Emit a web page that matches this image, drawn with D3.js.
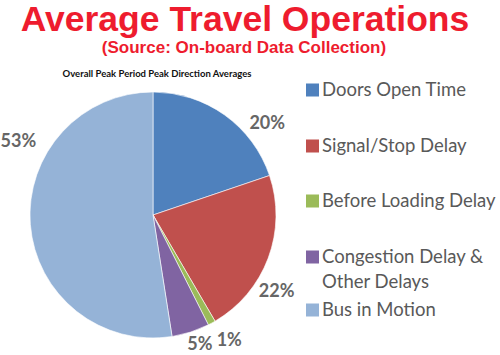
<!DOCTYPE html>
<html lang="en">
<head>
<meta charset="UTF-8">
<title>Average Travel Operations</title>
<script src="https://cdnjs.cloudflare.com/ajax/libs/d3/7.8.5/d3.min.js"></script>
<style>
  body { margin: 0; background: #fff; }
</style>
</head>
<body>
<svg width="500" height="355"></svg>
<script>
"use strict";

const categories = ["Doors Open Time", "Signal/Stop Delay", "Before Loading Delay", "Congestion Delay & Other Delays", "Bus in Motion"];
const shares = [20, 22, 1, 5, 53];
const colors = ["#4f81bd", "#c0504d", "#9bbb59", "#8064a2", "#95b3d7"];
const legendLines = [["Doors Open Time"], ["Signal/Stop Delay"], ["Before Loading Delay"], ["Congestion Delay &", "Other Delays"], ["Bus in Motion"]];

const svg = d3.select("svg");
const cx = 153, cy = 215, r = 123;

// label placement (degrees clockwise from 12 o'clock, distance from centre)
const labelAngle = [51, 121.5, 148.5, 160, 299];
const labelDist = [147, 145, 146, 137, 154];

svg.append("text")
    .attr("x", 245).attr("y", 31)
    .attr("text-anchor", "middle")
    .style("font-family", "Liberation Sans, Arial, sans-serif")
    .style("font-weight", "bold")
    .style("font-size", "35.5px")
    .attr("fill", "#ee1c2e")
    .text("Average Travel Operations");

svg.append("text")
    .attr("x", 244).attr("y", 53)
    .attr("text-anchor", "middle")
    .style("font-family", "Liberation Sans, Arial, sans-serif")
    .style("font-weight", "bold")
    .style("font-size", "17px")
    .attr("fill", "#ee1c2e")
    .text("(Source: On-board Data Collection)");

svg.append("text")
    .attr("x", 157).attr("y", 77)
    .attr("text-anchor", "middle")
    .style("font-family", "Lato, sans-serif")
    .style("font-weight", "bold")
    .style("font-size", "9.5px")
    .attr("fill", "#111")
    .text("Overall Peak Period Peak Direction Averages");

const pie = d3.pie().sort(null).value(d => d);
const arcs = pie(shares);
const arc = d3.arc().innerRadius(0).outerRadius(r);

const g = svg.append("g").attr("transform", `translate(${cx},${cy})`);
g.selectAll("path")
    .data(arcs)
    .enter()
    .append("path")
    .attr("d", arc)
    .attr("fill", (d, i) => colors[i])
    .attr("stroke", "#fff")
    .attr("stroke-width", 0.6);

g.selectAll("text.pct")
    .data(arcs)
    .enter()
    .append("text")
    .attr("class", "pct")
    .attr("x", (d, i) => Math.sin(labelAngle[i] * Math.PI / 180) * labelDist[i])
    .attr("y", (d, i) => -Math.cos(labelAngle[i] * Math.PI / 180) * labelDist[i])
    .attr("text-anchor", "middle")
    .attr("dy", "0.35em")
    .style("font-family", "Lato, sans-serif")
    .style("font-weight", "bold")
    .style("font-size", "18px")
    .attr("fill", "#666")
    .text(d => d.data + "%");

const legendY = d3.scalePoint().domain(d3.range(categories.length)).range([90, 310]);
const legendOffset = [0, 1, 1, 2, 0];
const legend = svg.append("g");
categories.forEach((c, i) => {
    const y = legendY(i) + legendOffset[i];
    legend.append("rect")
        .attr("x", 306).attr("y", y - 6.5)
        .attr("width", 13).attr("height", 13)
        .attr("fill", colors[i]);
    legendLines[i].forEach((line, j) => {
        legend.append("text")
            .attr("x", 322).attr("y", y + j * 25)
            .attr("dy", "0.35em")
            .style("font-family", "Lato, sans-serif")
            .style("font-size", "18.5px")
            .attr("fill", "#595959")
            .text(line);
    });
});
</script>
</body>
</html>
